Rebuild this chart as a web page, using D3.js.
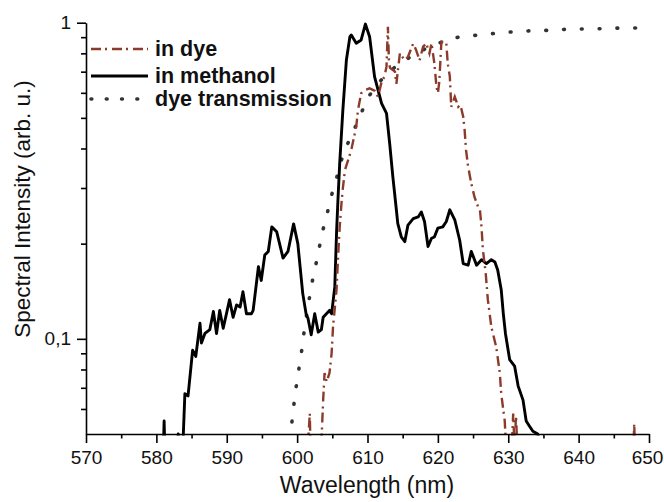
<!DOCTYPE html>
<html>
<head>
<meta charset="utf-8">
<script src="https://cdn.jsdelivr.net/npm/d3@7"></script>
<style>
  body { margin: 0; background: #fff; }
  text { font-family: "Liberation Sans", Arial, sans-serif; }
</style>
</head>
<body>
<div id="chart"></div>
<script>
// Tick values and labels
const xTicks = [570, 580, 590, 600, 610, 620, 630, 640, 650];
const xMinorTicks = [575, 585, 595, 605, 615, 625, 635, 645];
const yTicks = [0.1, 1];
const yTickLabels = ["0,1", "1"];
const yMinorTicks = [0.06, 0.07, 0.08, 0.09, 0.2, 0.3, 0.4, 0.5, 0.6, 0.7, 0.8, 0.9];

// Series names (legend)
const seriesNames = ["in dye", "in methanol", "dye transmission"];

// in methanol (black solid)
const methanolWavelength = [581.0, 581.1, 581.2, 583.0, 583.1, 583.3, 583.8, 584.05, 584.5, 585.15, 585.6, 586.2, 586.4, 586.9, 587.6, 588.1, 588.55, 589.0, 589.5, 590.4, 590.9, 591.4, 591.9, 592.3, 592.8, 593.5, 593.75, 594.5, 594.9, 595.4, 595.9, 596.4, 597.1, 598.0, 598.7, 599.5, 600.1, 600.8, 601.3, 601.55, 602.0, 602.5, 603.0, 603.45, 603.7, 604.6, 604.9, 605.35, 605.6, 605.8, 606.05, 606.5, 607.0, 607.5, 607.7, 608.4, 609.1, 609.7, 610.3, 611.0, 612.0, 612.7, 613.15, 613.6, 614.1, 614.3, 614.8, 615.3, 615.75, 616.5, 617.2, 617.65, 618.1, 618.6, 619.1, 619.5, 620.0, 620.7, 621.2, 621.7, 622.4, 623.1, 623.6, 624.3, 624.75, 625.5, 626.2, 626.9, 627.6, 628.1, 628.5, 629.0, 629.3, 629.6, 630.2, 630.9, 631.4, 632.1, 632.55, 633.0, 633.5, 634.2, 634.5];
const methanolIntensity = [0.045, 0.055, 0.045, 0.045, 0.05, 0.045, 0.048, 0.067, 0.066, 0.092, 0.088, 0.112, 0.097, 0.104, 0.107, 0.122, 0.104, 0.123, 0.108, 0.133, 0.117, 0.128, 0.126, 0.141, 0.120, 0.120, 0.123, 0.169, 0.153, 0.184, 0.189, 0.226, 0.218, 0.180, 0.189, 0.231, 0.200, 0.139, 0.119, 0.116, 0.103, 0.120, 0.105, 0.107, 0.117, 0.123, 0.120, 0.146, 0.216, 0.275, 0.359, 0.530, 0.762, 0.903, 0.914, 0.861, 0.882, 0.990, 0.903, 0.675, 0.556, 0.517, 0.415, 0.326, 0.256, 0.232, 0.210, 0.203, 0.229, 0.240, 0.243, 0.252, 0.235, 0.196, 0.208, 0.210, 0.224, 0.226, 0.235, 0.256, 0.238, 0.205, 0.173, 0.171, 0.189, 0.171, 0.178, 0.173, 0.178, 0.175, 0.165, 0.143, 0.120, 0.104, 0.086, 0.082, 0.071, 0.064, 0.055, 0.053, 0.051, 0.050, 0.045];

// in dye (brown dash-dot)
const dyeWavelength = [601.5, 601.8, 601.9, 603.2, 603.5, 603.7, 603.9, 604.2, 604.6, 604.9, 605.1, 605.6, 605.8, 606.05, 606.3, 606.5, 606.8, 607.7, 608.4, 608.65, 609.1, 609.6, 610.3, 611.0, 611.5, 612.0, 612.4, 612.7, 612.9, 613.05, 613.2, 613.9, 614.1, 614.6, 615.3, 615.75, 616.5, 616.9, 617.4, 617.9, 618.35, 618.8, 619.1, 619.5, 619.8, 620.0, 620.2, 620.5, 621.0, 621.2, 621.4, 621.7, 621.9, 622.4, 622.9, 623.2, 623.6, 623.8, 624.0, 624.3, 624.75, 625.2, 625.7, 625.95, 626.2, 626.4, 626.8, 627.1, 627.6, 628.3, 628.8, 629.0, 629.5, 629.7, 630.5, 630.7, 630.9, 631.1, 631.3, 647.8, 647.9, 648.0];
const dyeIntensity = [0.045, 0.058, 0.045, 0.045, 0.05, 0.064, 0.078, 0.073, 0.078, 0.090, 0.109, 0.143, 0.178, 0.226, 0.268, 0.300, 0.342, 0.396, 0.469, 0.530, 0.598, 0.612, 0.620, 0.610, 0.583, 0.650, 0.675, 0.726, 0.970, 0.750, 0.720, 0.700, 0.640, 0.800, 0.760, 0.780, 0.860, 0.820, 0.760, 0.840, 0.860, 0.800, 0.860, 0.744, 0.627, 0.598, 0.650, 0.870, 0.870, 0.860, 0.744, 0.675, 0.542, 0.583, 0.542, 0.550, 0.504, 0.458, 0.396, 0.350, 0.310, 0.281, 0.262, 0.260, 0.226, 0.191, 0.161, 0.133, 0.109, 0.094, 0.078, 0.067, 0.055, 0.045, 0.045, 0.058, 0.045, 0.057, 0.045, 0.045, 0.054, 0.045];

// dye transmission (dotted)
const transWavelength = [599.0, 599.2, 599.5, 599.8, 600.2, 600.6, 600.9, 601.65, 602.1, 602.6, 603.1, 603.6, 604.25, 604.9, 605.6, 606.3, 607.2, 608.4, 609.4, 610.3, 611.7, 613.15, 614.1, 616.5, 618.8, 621.0, 623.1, 625.7, 628.3, 630.65, 633.3, 635.8, 638.2, 640.8, 643.3, 645.8, 648.25, 650.0];
const transIntensity = [0.048, 0.053, 0.061, 0.069, 0.079, 0.090, 0.102, 0.131, 0.150, 0.169, 0.192, 0.218, 0.248, 0.285, 0.322, 0.368, 0.415, 0.475, 0.536, 0.590, 0.650, 0.700, 0.730, 0.790, 0.840, 0.875, 0.903, 0.914, 0.926, 0.936, 0.943, 0.946, 0.953, 0.955, 0.957, 0.962, 0.962, 0.964];

const margin = { top: 22.7, right: 15, bottom: 68, left: 86 };
const width = 664 - margin.left - margin.right;
const height = 502 - margin.top - margin.bottom;

const svg = d3.select("#chart")
  .append("svg")
  .attr("width", 664)
  .attr("height", 502)
  .append("g")
  .attr("transform", "translate(" + margin.left + "," + margin.top + ")");

const x = d3.scaleLinear().domain([570, 650]).range([0, width]);
const y = d3.scaleLog().domain([0.05, 1]).range([height, 0]);

// clip so values below the axis disappear
svg.append("clipPath")
  .attr("id", "plotClip")
  .append("rect")
  .attr("x", 0)
  .attr("y", -10)
  .attr("width", width)
  .attr("height", height + 11.5);

const line = d3.line()
  .x(d => x(d[0]))
  .y(d => y(d[1]));

const methanolData = methanolWavelength.map((w, i) => [w, methanolIntensity[i]]);
const dyeData = dyeWavelength.map((w, i) => [w, dyeIntensity[i]]);
const transData = transWavelength.map((w, i) => [w, transIntensity[i]]);

const plot = svg.append("g").attr("clip-path", "url(#plotClip)");

// Draw lines
plot.append("path")
  .datum(transData)
  .attr("d", line)
  .attr("fill", "none")
  .attr("stroke", "#333")
  .attr("stroke-width", 3.6)
  .attr("stroke-linecap", "round")
  .attr("stroke-dasharray", "0.8,17");

plot.append("path")
  .datum(methanolData)
  .attr("d", line)
  .attr("fill", "none")
  .attr("stroke", "#000")
  .attr("stroke-width", 2.9)
  .attr("stroke-linejoin", "round");

plot.append("path")
  .datum(dyeData)
  .attr("d", line)
  .attr("fill", "none")
  .attr("stroke", "#8c3b2b")
  .attr("stroke-width", 2.4)
  .attr("stroke-dasharray", "10,4,2,5");

// Axes
svg.append("g")
  .attr("transform", "translate(0," + height + ")")
  .call(d3.axisBottom(x).tickValues(xTicks).tickSize(9).tickPadding(8).tickSizeOuter(0).tickFormat(d3.format("d")));

const xMinor = svg.append("g")
  .attr("transform", "translate(0," + height + ")")
  .call(d3.axisBottom(x).tickValues(xMinorTicks).tickSize(4.5).tickFormat(""));
xMinor.select(".domain").remove();

svg.append("g")
  .call(d3.axisLeft(y).tickValues(yTicks).tickSize(9).tickPadding(6).tickSizeOuter(0)
    .tickFormat((d, i) => yTickLabels[i]));

const yMinor = svg.append("g")
  .call(d3.axisLeft(y).tickValues(yMinorTicks).tickSize(5).tickFormat(""));
yMinor.select(".domain").remove();

svg.selectAll(".domain, .tick line")
  .attr("stroke", "#000")
  .attr("stroke-width", 1.6);
svg.selectAll(".tick text")
  .attr("font-family", "Liberation Sans, Arial, sans-serif")
  .attr("font-size", 19)
  .attr("fill", "#111");
// keep the last x label inside the page
svg.selectAll(".tick text").filter(d => d === 650).attr("dx", -2);

// Axis labels
svg.append("text")
  .attr("text-anchor", "middle")
  .attr("x", 367 - margin.left)
  .attr("y", 493 - margin.top)
  .attr("font-size", 23)
  .attr("fill", "#111")
  .text("Wavelength (nm)");

svg.append("text")
  .attr("text-anchor", "middle")
  .attr("transform", "translate(" + (30 - margin.left) + "," + (209 - margin.top) + ") rotate(-90)")
  .attr("font-size", 22.5)
  .attr("fill", "#111")
  .text("Spectral Intensity (arb. u.)");

// Legend
const legendStyles = [
  { stroke: "#8c3b2b", width: 2.4, dash: "10,4,2,5", cap: "butt", y: 49 },
  { stroke: "#000", width: 2.9, dash: null, cap: "butt", y: 76 },
  { stroke: "#333", width: 3.6, dash: "0.8,14.5", cap: "round", y: 99 }
];

seriesNames.forEach((name, i) => {
  const s = legendStyles[i];
  svg.append("line")
    .attr("x1", 91 - margin.left)
    .attr("x2", 148 - margin.left)
    .attr("y1", s.y - margin.top)
    .attr("y2", s.y - margin.top)
    .attr("stroke", s.stroke)
    .attr("stroke-width", s.width)
    .attr("stroke-linecap", s.cap)
    .attr("stroke-dasharray", s.dash);

  svg.append("text")
    .attr("x", 155 - margin.left)
    .attr("y", s.y - margin.top + 7.5)
    .attr("font-size", 21.5)
    .attr("font-weight", "bold")
    .attr("fill", "#111")
    .text(name);
});
</script>
</body>
</html>
